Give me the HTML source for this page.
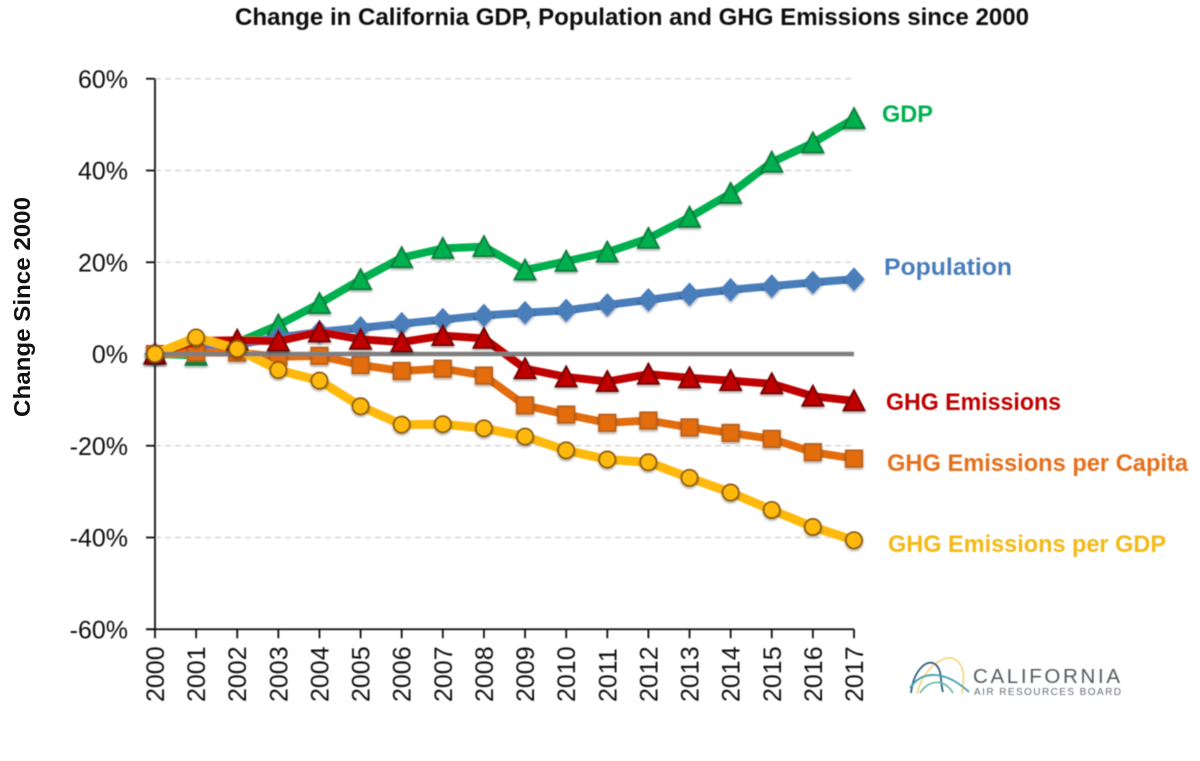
<!DOCTYPE html>
<html>
<head>
<meta charset="utf-8">
<style>
html,body{margin:0;padding:0;background:#fff;}
svg{display:block;font-family:"Liberation Sans",sans-serif;}
</style>
</head>
<body>
<svg id="chart" width="1200" height="761" viewBox="0 0 1200 761" xmlns="http://www.w3.org/2000/svg">
  <defs>
    <filter id="shadow" x="-40%" y="-40%" width="180%" height="200%">
      <feDropShadow dx="0" dy="1.5" stdDeviation="1.2" flood-color="#000" flood-opacity="0.4"/>
    </filter>
    <filter id="soft" filterUnits="userSpaceOnUse" x="0" y="0" width="1200" height="761">
      <feGaussianBlur stdDeviation="0.4"/>
    </filter>
  </defs>
  <rect width="1200" height="761" fill="#fff"/>
  <text x="632" y="25" text-anchor="middle" font-size="24" font-weight="bold" fill="#111" textLength="794" lengthAdjust="spacingAndGlyphs" filter="url(#soft)">Change in California GDP, Population and GHG Emissions since 2000</text>
  <text transform="translate(30,307) rotate(-90)" text-anchor="middle" font-size="23" font-weight="bold" fill="#111" textLength="220" lengthAdjust="spacingAndGlyphs">Change Since 2000</text>
  <g id="plot" filter="url(#soft)"></g>
  <g filter="url(#soft)">
    <path d="M917 694C923 668 945 652 956 660C967 668 963 684 962 694" fill="none" stroke="#f6d27a" stroke-width="1.6"/>
    <path d="M911 693C914 668 928 659 935 664C943 670 940 684 943 692" fill="none" stroke="#2f5f7f" stroke-width="1.8"/>
    <path d="M910 688C922 670 945 670 969 692" fill="none" stroke="#3f9db0" stroke-width="1.8"/>
    <path d="M920 693C928 680 944 678 953 693" fill="none" stroke="#5cb8a0" stroke-width="1.6"/>
    <text x="973" y="683" font-size="20.5" fill="#555b63" textLength="147" lengthAdjust="spacing">CALIFORNIA</text>
    <text x="974" y="695" font-size="10" fill="#666c74" textLength="147" lengthAdjust="spacing">AIR RESOURCES BOARD</text>
  </g>
</svg>
<script>
const years = ['2000','2001','2002','2003','2004','2005','2006','2007','2008','2009','2010','2011','2012','2013','2014','2015','2016','2017'];
const yTicks = [60,40,20,0,-20,-40,-60];
const gdpValues = [0,-0.3,2.5,6.3,11,16.2,21,23,23.4,18.3,20.2,22.2,25.2,29.8,35,41.8,46,51.3];
const populationValues = [0,1,2,3.6,4.8,5.7,6.6,7.5,8.4,9,9.5,10.7,11.8,13,14,14.8,15.6,16.3];
const emissionsValues = [0,2.8,3,2.8,4.8,3.2,2.6,4,3.4,-3.2,-5,-6,-4.4,-5.2,-5.8,-6.5,-9.2,-10.2];
const perCapitaValues = [0,0.3,0.3,-0.6,-0.4,-2.4,-3.7,-3.2,-4.7,-11.2,-13.2,-15,-14.5,-16,-17.2,-18.5,-21.4,-22.8];
const perGdpValues = [0,3.6,1.1,-3.5,-5.8,-11.4,-15.4,-15.3,-16.2,-18,-21,-23,-23.6,-27,-30.2,-34,-37.7,-40.6];
const emissionsHiddenMarkerYears = ['2001'];

const NS = 'http://www.w3.org/2000/svg';
const plot = document.getElementById('plot');
const xScale = i => 155 + i * (854 - 155) / (years.length - 1);
const yScale = v => 354 - v * (629 - 78.5) / 120;

function make(tag, attrs, parent) {
  const el = document.createElementNS(NS, tag);
  for (const k in attrs) el.setAttribute(k, attrs[k]);
  (parent || plot).appendChild(el);
  return el;
}

// gridlines and y ticks
yTicks.forEach(t => {
  if (t !== 0 && t !== -60) {
    const g = make('line', {x1:155, x2:854, y1:yScale(t), y2:yScale(t), stroke:'#d6d6d6', 'stroke-width':1.4, 'stroke-dasharray':'6 4'});
    
    
  }
  const tick = make('line', {x1:146, x2:155, y1:yScale(t), y2:yScale(t), stroke:'#111', 'stroke-width':1.8});
  
  
  const label = make('text', {x:128, y:yScale(t) + 9, 'text-anchor':'end', 'font-size':25, fill:'#111'});
  label.textContent = t + '%';
  
  
});

const yAxis = make('line', {x1:155, x2:155, y1:yScale(60), y2:yScale(-60), stroke:'#111', 'stroke-width':1.8});


const xAxis = make('line', {x1:146, x2:854, y1:yScale(-60), y2:yScale(-60), stroke:'#111', 'stroke-width':1.8});



years.forEach((yr, i) => {
  const tick = make('line', {x1:xScale(i), x2:xScale(i), y1:yScale(-60), y2:yScale(-60) + 9, stroke:'#111', 'stroke-width':1.8});
  
  
  const label = make('text', {transform:'translate(' + (xScale(i) + 9) + ',702) rotate(-90)', 'font-size':25, fill:'#111'});
  label.textContent = yr;
  
  
});

function drawLine(values, color, width, name) {
  const pts = values.map((v, i) => xScale(i) + ',' + yScale(v)).join(' ');
  const el = make('polyline', {points:pts, fill:'none', stroke:color, 'stroke-width':width, 'stroke-linejoin':'round'});
  
  
}

function drawMarkers(values, shape, fill, edge, name, hiddenYears) {
  const group = make('g', {filter:'url(#shadow)'});
  
  
  values.forEach((v, i) => {
    if (hiddenYears && hiddenYears.includes(years[i])) return;
    const x = xScale(i), y = yScale(v);
    let m;
    if (shape === 'triangle') {
      m = make('polygon', {points:(x)+','+(y-10.5)+' '+(x+10.5)+','+(y+9.5)+' '+(x-10.5)+','+(y+9.5)}, group);
    } else if (shape === 'diamond') {
      m = make('polygon', {points:(x)+','+(y-10.5)+' '+(x+9.5)+','+y+' '+(x)+','+(y+10.5)+' '+(x-9.5)+','+y}, group);
    } else if (shape === 'square') {
      m = make('rect', {x:x-8.2, y:y-8.2, width:16.4, height:16.4}, group);
    } else {
      m = make('circle', {cx:x, cy:y, r:8.1}, group);
    }
    m.setAttribute('fill', fill);
    m.setAttribute('stroke', edge);
    m.setAttribute('stroke-width', 1.8);
    
    
  });
}

// layering
drawLine(gdpValues, '#00b050', 8, 'gdp-line');
drawMarkers(gdpValues, 'triangle', '#00b050', '#0a7a3a', 'gdp-markers');
drawLine(populationValues, '#4a7ebb', 8, 'population-line');
drawMarkers(populationValues, 'diamond', '#4a7ebb', '#4a7ebb', 'population-markers');
drawLine(perCapitaValues, '#e36c0a', 8, 'per-capita-line');
drawMarkers(perCapitaValues, 'square', '#e36c0a', '#b8601a', 'per-capita-markers');
drawLine(emissionsValues, '#c00000', 8, 'emissions-line');
drawLine(perGdpValues, '#ffb90f', 9, 'per-gdp-line');

const zero = make('line', {x1:155, x2:854, y1:yScale(0), y2:yScale(0), stroke:'#7f7f7f', 'stroke-width':4.5});



drawMarkers(emissionsValues, 'triangle', '#c00000', '#6e0000', 'emissions-markers', emissionsHiddenMarkerYears);
drawMarkers(perGdpValues, 'circle', '#ffb90f', '#8a5a10', 'per-gdp-markers');

// direct series labels
const gdpLabel = make('text', {x:882, y:122, 'font-size':24, 'font-weight':'bold', fill:'#00b050', textLength:51, lengthAdjust:'spacingAndGlyphs'});
gdpLabel.textContent = 'GDP';


const popLabel = make('text', {x:884, y:275, 'font-size':24, 'font-weight':'bold', fill:'#4a7ebb', textLength:128, lengthAdjust:'spacingAndGlyphs'});
popLabel.textContent = 'Population';


const emLabel = make('text', {x:886, y:410, 'font-size':24, 'font-weight':'bold', fill:'#c00000', textLength:175, lengthAdjust:'spacingAndGlyphs'});
emLabel.textContent = 'GHG Emissions';


const capLabel = make('text', {x:887, y:471, 'font-size':24, 'font-weight':'bold', fill:'#e5701a', textLength:301, lengthAdjust:'spacingAndGlyphs'});
capLabel.textContent = 'GHG Emissions per Capita';


const perGdpLabel = make('text', {x:888, y:552, 'font-size':24, 'font-weight':'bold', fill:'#f4b912', textLength:278, lengthAdjust:'spacingAndGlyphs'});
perGdpLabel.textContent = 'GHG Emissions per GDP';


</script>
</body>
</html>
